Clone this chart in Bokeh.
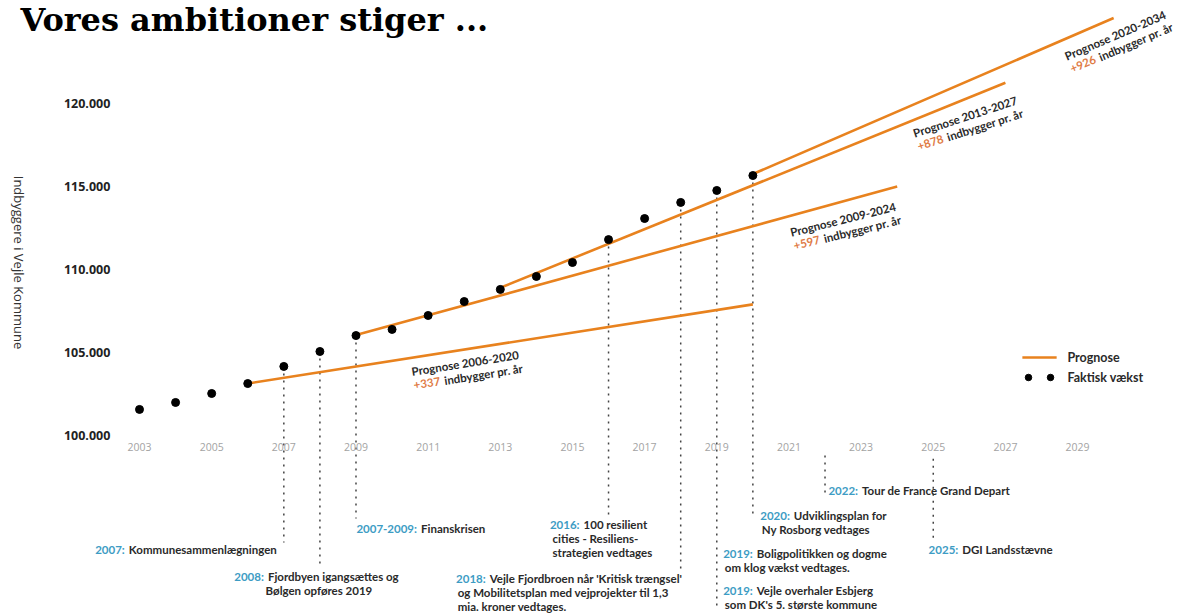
import math
from bokeh.plotting import figure
from bokeh.models import LinearAxis, FixedTicker, Range1d, Label, ColumnDataSource
from bokeh.core.properties import value
from bokeh.embed import file_html
from bokeh.resources import INLINE

# ---------------- data ----------------
years = [2003, 2004, 2005, 2006, 2007, 2008, 2009, 2010, 2011, 2012,
         2013, 2014, 2015, 2016, 2017, 2018, 2019, 2020]
population = [101570, 101990, 102530, 103130, 104160, 105060, 106020, 106390, 107230, 108070,
              108800, 109580, 110420, 111800, 113070, 114040, 114760, 115660]

prog_names = ["Prognose 2006-2020", "Prognose 2009-2024", "Prognose 2013-2027", "Prognose 2020-2034"]
prog_growth = ["+337", "+597", "+878", "+926"]
prog_start_year = [2006, 2009, 2013, 2020]
prog_end_year = [2020, 2024, 2027, 2030]
prog_start_value = [103130, 106050, 108900, 115750]
prog_end_value = [107900, 115000, 121250, 125150]

x_ticks = [2003, 2005, 2007, 2009, 2011, 2013, 2015, 2017, 2019, 2021, 2023, 2025, 2027, 2029]
y_ticks = [100000, 105000, 110000, 115000, 120000]
y_tick_labels = ["100.000", "105.000", "110.000", "115.000", "120.000"]

event_years = [2007, 2008, 2009, 2016, 2018, 2019, 2020, 2022, 2025]
event_heads = ["2007:", "2008:", "2007-2009:", "2016:", "2018:", "2019:", "2019:", "2020:", "2022:", "2025:"]
event_head_years = [2007, 2008, 2009, 2016, 2018, 2019, 2019, 2020, 2022, 2025]
event_texts = [
    ["Kommunesammenlægningen"],
    ["Fjordbyen igangsættes og", "Bølgen opføres 2019"],
    ["Finanskrisen"],
    ["100 resilient", "cities - Resiliens-", "strategien vedtages"],
    ["Vejle Fjordbroen når 'Kritisk trængsel'", "og Mobilitetsplan med vejprojekter til 1,3", "mia. kroner vedtages."],
    ["Boligpolitikken og dogme", "om klog vækst vedtages."],
    ["Vejle overhaler Esbjerg", "som DK's 5. største kommune"],
    ["Udviklingsplan for", "Ny Rosborg vedtages"],
    ["Tour de France Grand Depart"],
    ["DGI Landsstævne"],
]

legend_labels = ["Prognose", "Faktisk vækst"]
y_label = "Indbyggere i Vejle Kommune"
title_text = "Vores ambitioner stiger ..."

# ---------------- layout / style ----------------
ORANGE = "#e8821e"
TEAL = "#3d9cc4"
DARK = "#2a2a2a"
GROWTH = "#e07b45"
ANN_FONT = value("Lato")
ANN_SIZE = "11.5px"

# dotted line extents (data values)
event_top = {2022: 98800, 2025: 98600}
event_bottom = {2007: 93550, 2008: 91990, 2009: 95000, 2016: 95120, 2018: 91870,
                2019: 89460, 2020: 95120, 2022: 96570, 2025: 93550}
# annotation layout: head boundary offset (px), y of each line, continuation offset (px), align
ann_layout = [
    dict(dx=-159, ys=[93133], cdx=None, calign="left"),
    dict(dx=-56, ys=[91506, 90663], cdx=-1, calign="center"),
    dict(dx=61, ys=[94398], cdx=None, calign="left"),
    dict(dx=-29, ys=[94639, 93795, 92952], cdx=-56, calign="left"),
    dict(dx=-195, ys=[91386, 90542, 89699], cdx=-223, calign="left"),
    dict(dx=36, ys=[92892, 92048], cdx=8, calign="left"),
    dict(dx=36, ys=[90663, 89819], cdx=8, calign="left"),
    dict(dx=37, ys=[95181, 94337], cdx=9, calign="left"),
    dict(dx=33, ys=[96687], cdx=None, calign="left"),
    dict(dx=25, ys=[93133], cdx=None, calign="left"),
]
# prognosis label anchors (data) and angle (deg)
prog_label_x = [2010.54, 2021.04, 2024.45, 2028.66]
prog_label_y = [103855, 112229, 118193, 122831]
prog_label_angle = [9, 14, 18, 23]

p = figure(width=1179, height=613,
           x_range=Range1d(1999.147, 2031.825), y_range=Range1d(89277, 126204),
           x_axis_location=None, y_axis_location=None,
           toolbar_location=None, output_backend="svg", min_border=0,
           outline_line_color=None)
p.grid.visible = False

xaxis = LinearAxis(ticker=FixedTicker(ticks=x_ticks), fixed_location=99700,
                   axis_line_color=None, major_tick_line_color=None, minor_tick_line_color=None,
                   major_tick_out=0, major_tick_in=0, minor_tick_out=0,
                   major_label_text_color="#a3a3a3", major_label_text_font="Open Sans",
                   major_label_text_font_size="10.5px", major_label_standoff=3)
p.add_layout(xaxis, "below")

yaxis = LinearAxis(ticker=FixedTicker(ticks=y_ticks),
                   major_label_overrides={t: l for t, l in zip(y_ticks, y_tick_labels)},
                   fixed_location=2002.33,
                   axis_line_color=None, major_tick_line_color=None, minor_tick_line_color=None,
                   major_tick_out=0, major_tick_in=0, minor_tick_out=0,
                   major_label_text_color="#222222", major_label_text_font="Open Sans",
                   major_label_text_font_style="bold",
                   major_label_text_font_size="12.5px", major_label_standoff=5)
p.add_layout(yaxis, "left")

# dotted event lines
pop_by_year = dict(zip(years, population))
seg = dict(x0=[], y0=[], x1=[], y1=[])
for ey in event_years:
    top = pop_by_year.get(ey, event_top.get(ey))
    seg["x0"].append(ey); seg["x1"].append(ey)
    seg["y0"].append(top); seg["y1"].append(event_bottom[ey])
p.segment(x0="x0", y0="y0", x1="x1", y1="y1", source=ColumnDataSource(seg),
          line_color="#444444", line_width=1.5, line_dash="2 5")

# prognosis lines
p.segment(x0=prog_start_year, y0=prog_start_value, x1=prog_end_year, y1=prog_end_value,
          line_color=ORANGE, line_width=2.6)

# actual dots
p.scatter(years, population, size=8, color="black")

# prognosis labels
for name, g, lx, ly, ang in zip(prog_names, prog_growth, prog_label_x, prog_label_y, prog_label_angle):
    a = math.radians(ang)
    p.text(x=[lx], y=[ly], text=[name], angle=a, text_font=ANN_FONT, text_font_style="bold",
           text_font_size=ANN_SIZE, text_color=DARK, text_align="left", text_baseline="middle")
    ox, oy = 14 * math.sin(a), 14 * math.cos(a)
    p.text(x=[lx], y=[ly], text=[g], angle=a, x_offset=ox, y_offset=oy, text_font=ANN_FONT,
           text_font_style="bold", text_font_size=ANN_SIZE, text_color=GROWTH,
           text_align="left", text_baseline="middle")
    w = 31
    p.text(x=[lx], y=[ly], text=["indbygger pr. år"], angle=a,
           x_offset=ox + w * math.cos(a), y_offset=oy - w * math.sin(a), text_font=ANN_FONT,
           text_font_style="bold", text_font_size=ANN_SIZE, text_color=DARK,
           text_align="left", text_baseline="middle")

# event annotations
heads = dict(x=[], y=[], t=[], dx=[])
rest_l = dict(x=[], y=[], t=[], dx=[])
rest_c = dict(x=[], y=[], t=[], dx=[])
for hy, head, lines, lay in zip(event_head_years, event_heads, event_texts, ann_layout):
    heads["x"].append(hy); heads["y"].append(lay["ys"][0]); heads["t"].append(head); heads["dx"].append(lay["dx"])
    rest_l["x"].append(hy); rest_l["y"].append(lay["ys"][0]); rest_l["t"].append(lines[0]); rest_l["dx"].append(lay["dx"] + 4)
    for line, yy in zip(lines[1:], lay["ys"][1:]):
        tgt = rest_c if lay["calign"] == "center" else rest_l
        tgt["x"].append(hy); tgt["y"].append(yy); tgt["t"].append(line); tgt["dx"].append(lay["cdx"])

p.text(x="x", y="y", text="t", x_offset="dx", source=ColumnDataSource(heads),
       text_font=ANN_FONT, text_font_style="bold", text_font_size=ANN_SIZE, text_color=TEAL,
       text_align="right", text_baseline="middle")
p.text(x="x", y="y", text="t", x_offset="dx", source=ColumnDataSource(rest_l),
       text_font=ANN_FONT, text_font_style="bold", text_font_size=ANN_SIZE, text_color=DARK,
       text_align="left", text_baseline="middle")
p.text(x="x", y="y", text="t", x_offset="dx", source=ColumnDataSource(rest_c),
       text_font=ANN_FONT, text_font_style="bold", text_font_size=ANN_SIZE, text_color=DARK,
       text_align="center", text_baseline="middle")

# legend (custom)
p.line([2027.47, 2028.42], [104699, 104699], line_color=ORANGE, line_width=2.6)
p.scatter([2027.64, 2028.25], [103494, 103494], size=6.5, color="black")
p.text(x=[2028.72, 2028.72], y=[104699, 103494], text=legend_labels, text_font=ANN_FONT,
       text_font_style="bold", text_font_size="12.5px", text_color=DARK,
       text_align="left", text_baseline="middle")

# title and y-axis label
p.add_layout(Label(x=20, y=594, x_units="screen", y_units="screen", text=title_text,
                   text_font="DejaVu Serif", text_font_style="bold", text_font_size="32px",
                   text_color="black", text_baseline="alphabetic"))
p.add_layout(Label(x=18, y=351, x_units="screen", y_units="screen", text=y_label,
                   angle=-math.pi / 2, text_font="Open Sans", text_font_size="13px",
                   text_color="#333333", text_align="center", text_baseline="middle"))

open("out.html", "w").write(file_html(p, INLINE))
